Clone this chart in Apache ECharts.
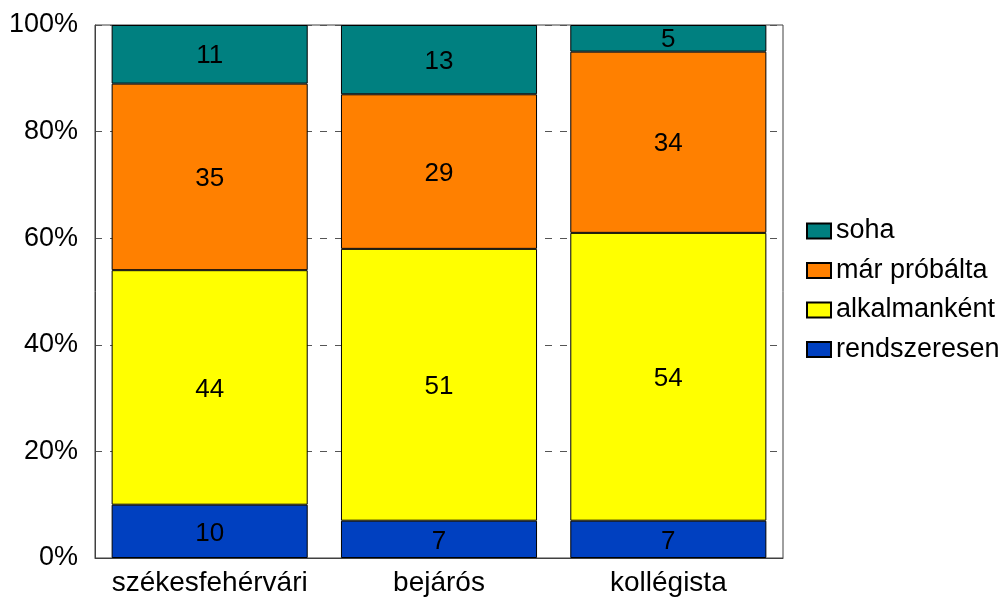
<!DOCTYPE html>
<html>
<head>
<meta charset="utf-8">
<script src="https://cdn.jsdelivr.net/npm/echarts@6/dist/echarts.min.js"></script>
<style>html,body{margin:0;padding:0;background:#fff}#c{width:1008px;height:598px}</style>
</head>
<body>
<div id="c"></div>
<script>
const categories = ['székesfehérvári', 'bejárós', 'kollégista'];
const rendszeresen = [10, 7, 7];
const alkalmankent = [44, 51, 54];
const marProbalta = [35, 29, 34];
const soha = [11, 13, 5];
const seriesNames = ['rendszeresen', 'alkalmanként', 'már próbálta', 'soha'];
const seriesColors = ['#0040C0', '#FFFF00', '#FF8000', '#008080'];
const yTicks = [0, 20, 40, 60, 80, 100];

const font = "'Liberation Sans', Arial, sans-serif";
const dataSets = [rendszeresen, alkalmankent, marProbalta, soha];

const chart = echarts.init(document.getElementById('c'));
chart.setOption({
  animation: false,
  backgroundColor: '#fff',
  textStyle: { fontFamily: font },
  grid: { left: 95, right: 225, top: 25, bottom: 40, show: true, borderColor: '#404040', borderWidth: 1, backgroundColor: 'transparent' },
  legend: {
    orient: 'vertical', left: 806, top: 217.5, padding: 0,
    itemWidth: 24, itemHeight: 15, itemGap: 12.5,
    data: ['soha', 'már próbálta', 'alkalmanként', 'rendszeresen'],
    textStyle: { fontSize: 27, color: '#000', fontFamily: font, lineHeight: 27, padding: [0, 0, 0, 0] },
    icon: 'rect'
  },
  xAxis: {
    type: 'category', data: categories,
    axisLine: { show: true, lineStyle: { color: '#404040', width: 1 } },
    axisTick: { show: false },
    axisLabel: { interval: 0, fontSize: 28, color: '#000', margin: 11, fontFamily: font }
  },
  yAxis: {
    type: 'value', min: yTicks[0], max: yTicks[yTicks.length - 1], interval: 20,
    axisLine: { show: true, lineStyle: { color: '#404040', width: 1 } },
    axisTick: { show: false },
    axisLabel: { fontSize: 27, color: '#000', margin: 17, fontFamily: font, formatter: '{value}%' },
    splitLine: { show: true, lineStyle: { color: '#555', type: [7, 8], width: 1 } }
  },
  series: dataSets.map((d, i) => ({
    name: seriesNames[i], type: 'bar', stack: 'all', data: d,
    barWidth: '85.5%',
    itemStyle: { color: seriesColors[i], borderColor: '#000', borderWidth: 1 },
    label: { show: true, position: 'inside', offset: [0, 2], fontSize: 26, color: '#000', fontFamily: font }
  }))
});
</script>
</body>
</html>
